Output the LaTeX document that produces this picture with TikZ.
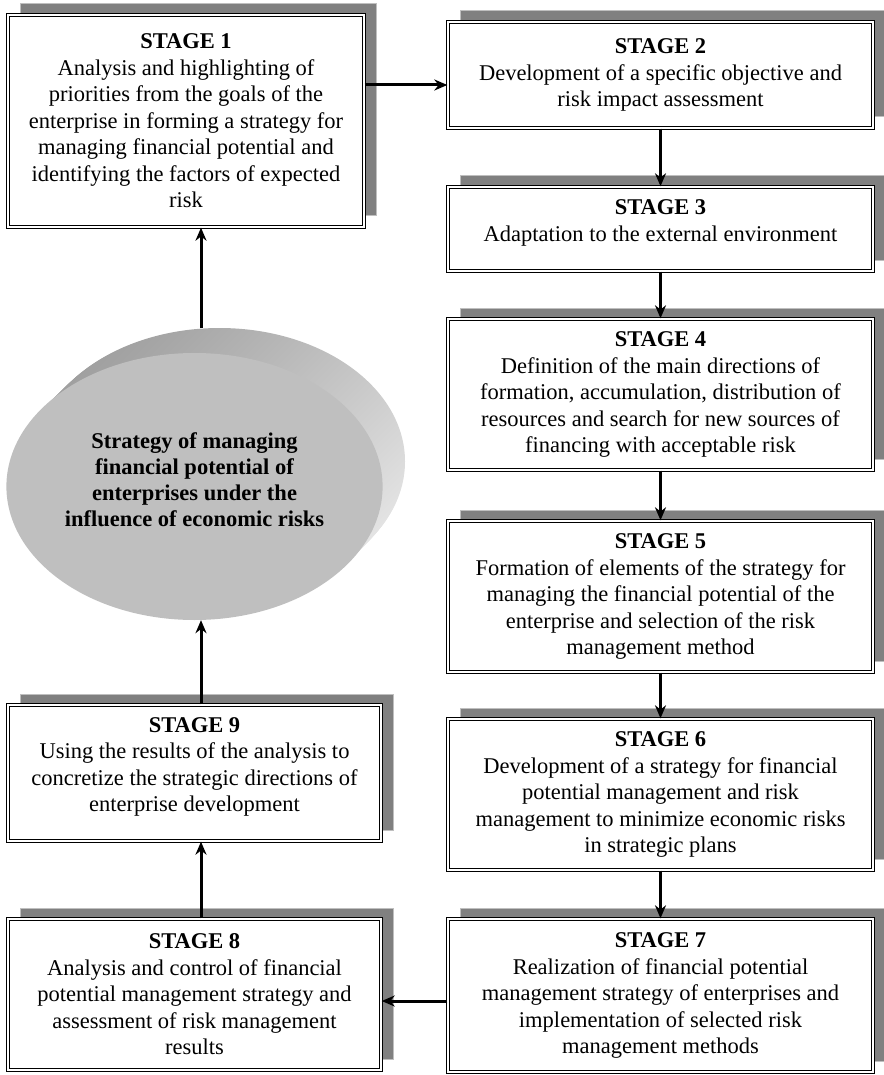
\documentclass[tikz,border=0pt]{standalone}
\usepackage{fontspec}
\setmainfont{Liberation Serif}
\usetikzlibrary{arrows.meta,positioning,calc,shadows,shadings,shapes.geometric}

\begin{document}
\begin{tikzpicture}[x=1pt,y=-1pt,
    stagebox/.style={draw, line width=1.4pt, double, double distance=1.5pt, fill=white,
        align=center, inner sep=4pt, font=\fontsize{22.5}{26.5}\selectfont,
        general shadow={shadow xshift=12pt, shadow yshift=11pt, fill=gray, draw=gray!50, line width=1pt}},
    flow/.style={line width=3pt, -{Stealth[length=13pt,width=11pt]}},
]
    \useasboundingbox (0,0) rectangle (883,1075);

    % centre ellipse with its side
    \foreach \k in {25,24,...,1}
        \shade[upper left=gray!85, upper right=gray!45, lower right=gray!10, lower left=gray!50]
            (194.5+\k,486.5-\k) ellipse (185.5 and 133.5);
    \node[ellipse, fill=gray!50, minimum width=371pt, minimum height=267pt, align=center, text depth=13pt,
        font=\fontsize{22.5}{26}\selectfont\bfseries] (strat) at (194.5,486.5)
        {Strategy of managing\\financial potential of\\enterprises under the\\influence of economic risks};

    % left column
    \node[stagebox, minimum width=356pt, minimum height=212pt] (s1) at (186,121)
        {\textbf{STAGE 1}\\Analysis and highlighting of\\priorities from the goals of the\\enterprise in forming a strategy for\\managing financial potential and\\identifying the factors of expected\\risk};
    \node[stagebox, minimum width=373pt, minimum height=136pt, text depth=17pt] (s9) at (194.5,773)
        {\textbf{STAGE 9}\\Using the results of the analysis to\\concretize the strategic directions of\\enterprise development};
    \node[stagebox, minimum width=373pt, minimum height=151pt] (s8) at (194.5,994.5)
        {\textbf{STAGE 8}\\Analysis and control of financial\\potential management strategy and\\assessment of risk management\\results};

    % right column
    \node[stagebox, minimum width=425pt, minimum height=106pt] (s2) at (660.5,75)
        {\textbf{STAGE 2}\\Development of a specific objective and\\risk impact assessment};
    \node[stagebox, minimum width=425pt, minimum height=84pt, text depth=17pt] (s3) at (660.5,229)
        {\textbf{STAGE 3}\\Adaptation to the external environment};
    \node[stagebox, minimum width=425pt, minimum height=151pt] (s4) at (660.5,394.5)
        {\textbf{STAGE 4}\\Definition of the main directions of\\formation, accumulation, distribution of\\resources and search for new sources of\\financing with acceptable risk};
    \node[stagebox, minimum width=425pt, minimum height=151pt] (s5) at (660.5,596.5)
        {\textbf{STAGE 5}\\Formation of elements of the strategy for\\managing the financial potential of the\\enterprise and selection of the risk\\management method};
    \node[stagebox, minimum width=425pt, minimum height=151pt] (s6) at (660.5,794.5)
        {\textbf{STAGE 6}\\Development of a strategy for financial\\potential management and risk\\management to minimize economic risks\\in strategic plans};
    \node[stagebox, minimum width=425pt, minimum height=153pt] (s7) at (660.5,995.5)
        {\textbf{STAGE 7}\\Realization of financial potential\\management strategy of enterprises and\\implementation of selected risk\\management methods};

    % connectors
    \coordinate (ax) at (201,0);
    \coordinate (r1) at (0,85);
    \coordinate (r7) at (0,1001);
    \coordinate (stop) at (201,328);
    \draw[flow] (s1.east |- r1) -- (s2.west |- r1);
    \draw[flow] (s2) -- (s3);
    \draw[flow] (s3) -- (s4);
    \draw[flow] (s4) -- (s5);
    \draw[flow] (s5) -- (s6);
    \draw[flow] (s6) -- (s7);
    \draw[flow] (s7.west |- r7) -- (s8.east |- r7);
    \draw[flow] (ax |- s8.north) -- (ax |- s9.south);
    \draw[flow] (ax |- s9.north) -- (ax |- strat.south);
    \draw[flow] (stop) -- (ax |- s1.south);
\end{tikzpicture}
\end{document}
